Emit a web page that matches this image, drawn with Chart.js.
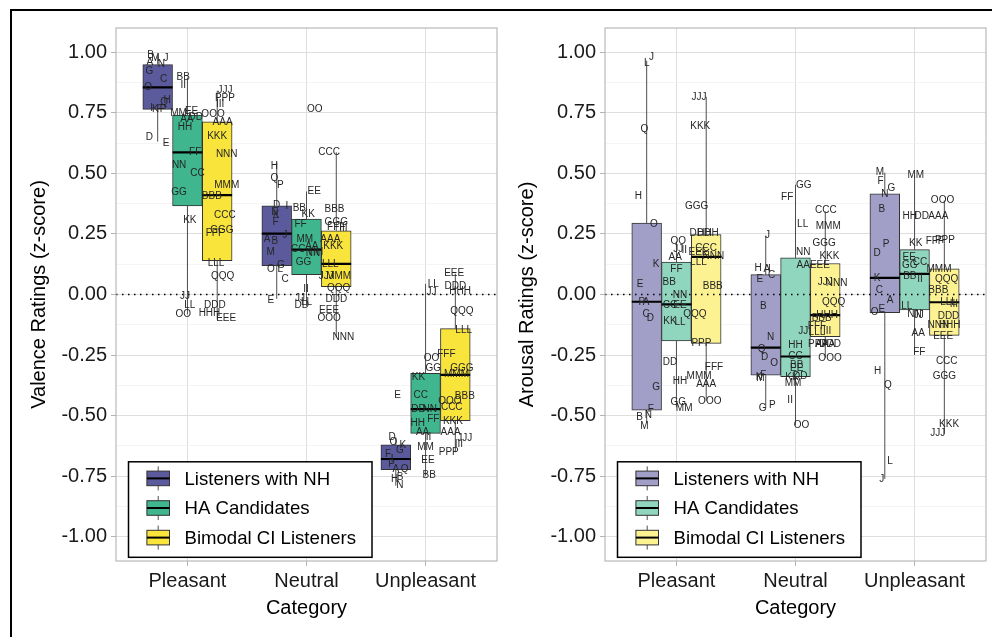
<!DOCTYPE html>
<html>
<head>
<meta charset="utf-8">
<script src="https://cdn.jsdelivr.net/npm/chart.js@4.4.1/dist/chart.umd.min.js"></script>
<style>
  html, body { margin: 0; padding: 0; background: #fff; }
  body { width: 992px; height: 637px; position: relative; overflow: hidden; }
  #frame { position: absolute; left: 10px; top: 9px; width: 1000px; height: 700px; border: 2px solid #000; box-sizing: border-box; }
  canvas { position: absolute; top: 12px; }
  #valence { left: 12px; }
  #arousal { left: 500px; }
</style>
</head>
<body>
<div id="frame"></div>
<canvas id="valence" width="490" height="625"></canvas>
<canvas id="arousal" width="492" height="625"></canvas>
<script>
const categories = ["Pleasant", "Neutral", "Unpleasant"];
const groups = ["Listeners with NH", "HA Candidates", "Bimodal CI Listeners"];
const catPos = [1, 2, 3];
const dodge = [-0.25, 0, 0.25];
const yMajorTicks = [-1, -0.75, -0.5, -0.25, 0, 0.25, 0.5, 0.75, 1];
const yMinorTicks = [-0.875, -0.625, -0.375, -0.125, 0.125, 0.375, 0.625, 0.875];

// box stats per category: [lower whisker, q1, median, q3, upper whisker]
const valenceNH = [[0.631, 0.764, 0.855, 0.949, 0.988], [-0.018, 0.119, 0.251, 0.366, 0.545], [-0.789, -0.723, -0.679, -0.621, -0.59]];
const valenceHA = [[-0.082, 0.366, 0.587, 0.741, 0.895], [-0.048, 0.082, 0.185, 0.311, 0.425], [-0.748, -0.573, -0.473, -0.325, 0.044]];
const valenceCI = [[-0.103, 0.14, 0.41, 0.713, 0.841], [-0.178, 0.032, 0.126, 0.263, 0.587], [-0.651, -0.521, -0.332, -0.141, 0.086]];
const arousalNH = [[-0.53, -0.477, -0.03, 0.295, 0.965], [-0.47, -0.333, -0.219, 0.082, 0.243], [-0.761, -0.075, 0.069, 0.416, 0.503]];
const arousalHA = [[-0.465, -0.192, -0.041, 0.134, 0.219], [-0.539, -0.339, -0.256, 0.151, 0.453], [-0.24, -0.064, 0.085, 0.185, 0.494]];
const arousalCI = [[-0.439, -0.202, 0.155, 0.247, 0.816], [-0.261, -0.174, -0.085, 0.128, 0.343], [-0.576, -0.169, -0.032, 0.106, 0.388]];

// participant labels per category: [id, rating, jitter]
const valenceNHPts = [
  [["B",0.988,-0.06],["A",0.96,-0.065],["M",0.974,-0.02],["J",0.974,0.07],["N",0.949,0.03],["G",0.923,-0.07],["C",0.888,0.05],["O",0.855,-0.08],["H",0.802,0.08],["Q",0.795,0.055],["I",0.768,-0.05],["K",0.764,-0.02],["F",0.764,0.015],["P",0.766,0.045],["D",0.651,-0.07],["E",0.624,0.07]],
  [["H",0.531,-0.02],["Q",0.48,-0.02],["P",0.453,0.03],["D",0.368,0],["I",0.364,0.085],["N",0.34,-0.015],["K",0.326,-0.005],["F",0.298,-0.01],["J",0.244,0.07],["A",0.226,-0.08],["B",0.219,-0.015],["M",0.174,-0.05],["G",0.121,0.035],["O",0.103,-0.05],["L",0.103,0.03],["C",0.062,0.07],["E",-0.023,-0.05]],
  [["E",-0.414,0.015],["D",-0.59,-0.03],["O",-0.61,-0.02],["K",-0.621,0.06],["G",-0.642,0.035],["F",-0.658,-0.065],["I",-0.679,-0.03],["P",-0.7,-0.035],["A",-0.723,0],["Q",-0.72,0.075],["B",-0.754,0.035],["H",-0.764,-0.01],["N",-0.789,0.035]]
];
const valenceHAPts = [
  [["BB",0.898,-0.035],["II",0.864,-0.035],["MM",0.748,-0.075],["EE",0.757,0.035],["AA",0.723,-0.005],["DD",0.733,0.07],["HH",0.689,-0.02],["FF",0.587,0.065],["NN",0.535,-0.07],["CC",0.501,0.085],["GG",0.421,-0.07],["KK",0.305,0.02],["JJ",-0.007,-0.02],["LL",-0.045,0.02],["OO",-0.082,-0.035]],
  [["OO",0.764,0.07],["EE",0.425,0.065],["BB",0.354,-0.06],["KK",0.332,0.015],["FF",0.288,-0.05],["MM",0.229,-0.015],["CC",0.185,-0.07],["AA",0.199,0.045],["NN",0.171,0.055],["HH",0.175,0.08],["GG",0.134,-0.025],["II",0.021,-0.005],["JJ",-0.014,-0.055],["LL",-0.03,0],["DD",-0.045,-0.04]],
  [["LL",0.044,0.065],["JJ",0.01,0.05],["OO",-0.263,0.05],["GG",-0.306,0.065],["KK",-0.343,-0.06],["CC",-0.416,-0.04],["DD",-0.473,-0.06],["NN",-0.473,0.035],["FF",-0.514,0.065],["HH",-0.532,-0.065],["AA",-0.567,-0.025],["II",-0.59,0.025],["MM",-0.631,0],["EE",-0.686,0.02],["BB",-0.748,0.03]]
];
const valenceCIPts = [
  [["JJJ",0.841,0.065],["PPP",0.812,0.065],["III",0.786,0.025],["OOO",0.745,-0.035],["AAA",0.709,0.045],["KKK",0.654,0],["NNN",0.579,0.08],["MMM",0.449,0.08],["BBB",0.405,-0.045],["CCC",0.329,0.065],["GGG",0.267,0.04],["FFF",0.254,-0.02],["LLL",0.13,-0.01],["QQQ",0.075,0.045],["DDD",-0.045,-0.02],["HHH",-0.078,-0.065],["EEE",-0.097,0.075]],
  [["CCC",0.587,-0.06],["BBB",0.35,-0.015],["GGG",0.298,0],["FFF",0.279,0],["III",0.275,0.06],["AAA",0.229,-0.05],["KKK",0.199,-0.025],["LLL",0.126,-0.05],["JJJ",0.075,-0.085],["MMM",0.075,0.02],["QQQ",0.027,0.02],["DDD",-0.018,0],["EEE",-0.064,-0.06],["OOO",-0.099,-0.06],["NNN",-0.178,0.06]],
  [["EEE",0.086,-0.01],["DDD",0.032,0],["HHH",0.014,0.04],["QQQ",-0.069,0.055],["LLL",-0.148,0.07],["FFF",-0.247,-0.075],["GGG",-0.304,0.055],["MMM",-0.329,0.01],["BBB",-0.418,0.08],["OOO",-0.439,-0.045],["CCC",-0.466,-0.03],["KKK",-0.525,-0.02],["AAA",-0.569,-0.04],["JJJ",-0.594,0.08],["III",-0.617,0.03],["PPP",-0.651,-0.055]]
];
const arousalNHPts = [
  [["J",0.978,0.04],["L",0.953,0],["Q",0.682,-0.02],["H",0.405,-0.07],["O",0.291,0.06],["K",0.123,0.08],["E",0.041,-0.055],["P",-0.032,-0.04],["A",-0.032,-0.005],["C",-0.082,-0.005],["D",-0.1,0.03],["G",-0.384,0.08],["F",-0.473,0.035],["N",-0.498,0.015],["B",-0.505,-0.06],["M",-0.545,-0.02]],
  [["J",0.243,0.015],["H",0.11,-0.065],["A",0.103,0.01],["I",0.105,0.03],["C",0.078,0.05],["E",0.065,-0.05],["B",-0.048,-0.02],["N",-0.178,0.04],["Q",-0.224,-0.035],["D",-0.261,-0.01],["O",-0.284,0.07],["F",-0.333,-0.02],["K",-0.34,-0.055],["M",-0.345,-0.045],["P",-0.457,0.055],["G",-0.47,-0.025]],
  [["M",0.503,-0.04],["F",0.466,-0.035],["G",0.439,0.055],["N",0.414,0],["B",0.353,-0.025],["P",0.209,0.01],["D",0.169,-0.065],["K",0.069,-0.065],["C",0.016,-0.045],["A",-0.025,0.045],["E",-0.059,-0.025],["O",-0.075,-0.085],["H",-0.316,-0.06],["Q",-0.373,0.025],["L",-0.687,0.045],["J",-0.761,-0.025]]
];
const arousalHAPts = [
  [["OO",0.219,0.015],["JJ",0.188,0.015],["II",0.181,0.065],["AA",0.155,-0.01],["FF",0.106,0],["BB",0.051,-0.06],["NN",-0.004,0.03],["CC",-0.045,-0.055],["EE",-0.045,0.03],["KK",-0.11,-0.055],["LL",-0.114,0.03],["DD",-0.281,-0.055],["HH",-0.357,0.03],["GG",-0.446,0.015],["MM",-0.47,0.065]],
  [["GG",0.453,0.07],["FF",0.402,-0.07],["LL",0.288,0.06],["NN",0.174,0.065],["AA",0.119,0.065],["JJ",-0.151,0.065],["HH",-0.208,0],["CC",-0.256,0],["BB",-0.292,0.01],["EE",-0.305,0.01],["DD",-0.336,0.04],["KK",-0.34,-0.03],["MM",-0.367,-0.02],["II",-0.435,-0.045],["OO",-0.539,0.05]],
  [["MM",0.494,0.01],["HH",0.322,-0.04],["DD",0.322,0.06],["KK",0.213,0.01],["EE",0.154,-0.045],["CC",0.133,0.045],["GG",0.119,-0.04],["BB",0.075,-0.04],["II",0.062,0.045],["LL",-0.048,-0.065],["NN",-0.082,0],["JJ",-0.085,0.035],["AA",-0.16,0.03],["FF",-0.24,0.04]]
];
const arousalCIPts = [
  [["JJJ",0.816,-0.06],["KKK",0.695,-0.05],["GGG",0.364,-0.08],["DDD",0.254,-0.05],["HHH",0.252,0.015],["CCC",0.189,0],["EEE",0.174,-0.065],["NNN",0.158,0.06],["LLL",0.133,-0.065],["BBB",0.034,0.055],["QQQ",-0.082,-0.095],["PPP",-0.202,-0.04],["FFF",-0.299,0.065],["MMM",-0.339,-0.06],["AAA",-0.37,0],["OOO",-0.439,0.03]],
  [["CCC",0.347,0.005],["MMM",0.281,0.025],["GGG",0.213,-0.01],["KKK",0.158,0.035],["EEE",0.119,-0.045],["JJJ",0.051,0],["NNN",0.048,0.095],["QQQ",-0.034,0.07],["HHH",-0.085,0.015],["BBB",-0.1,-0.03],["FFF",-0.13,-0.07],["III",-0.15,0.015],["LLL",-0.155,-0.07],["PPP",-0.206,-0.06],["AAA",-0.206,0],["DDD",-0.206,0.04],["OOO",-0.265,0.04]],
  [["OOO",0.388,-0.015],["AAA",0.325,-0.05],["FFF",0.219,-0.08],["PPP",0.222,0.005],["MMM",0.106,-0.045],["QQQ",0.065,0.02],["BBB",0.016,-0.05],["LLL",-0.032,0.035],["III",-0.04,0.08],["DDD",-0.089,0.035],["NNN",-0.126,-0.05],["HHH",-0.126,0.045],["EEE",-0.174,-0.01],["CCC",-0.277,0.02],["GGG",-0.336,0],["KKK",-0.535,0.04],["JJJ",-0.572,-0.055]]
];

const valenceFills = ["#5b5a9c", "#3fb68d", "#f9e43c"];
const arousalFills = ["#a19fc7", "#90d5be", "#fdf292"];

const FONT = '"Liberation Sans", Arial, sans-serif';

function buildDatasets(stats, pts, fills) {
  const ds = [];
  stats.forEach((g, gi) => {
    const xs = catPos.map((c) => c + dodge[gi]);
    const whisk = [];
    const med = [];
    g.forEach((s, ci) => {
      whisk.push({ x: xs[ci], y: s[0] }, { x: xs[ci], y: s[1] }, { x: xs[ci], y: null },
                 { x: xs[ci], y: s[3] }, { x: xs[ci], y: s[4] }, { x: xs[ci], y: null });
      med.push({ x: xs[ci] - 0.125, y: s[2] }, { x: xs[ci] + 0.125, y: s[2] }, { x: xs[ci], y: null });
    });
    ds.push({ type: "line", data: whisk, borderColor: "#4d4d4d", borderWidth: 1, pointRadius: 0, spanGaps: false, order: 5 });
    ds.push({
      type: "bar",
      data: g.map((s, ci) => ({ x: xs[ci], y: [s[1], s[3]] })),
      backgroundColor: fills[gi],
      borderColor: "#333333",
      borderWidth: 1,
      borderSkipped: false,
      grouped: false,
      barPercentage: 1,
      categoryPercentage: 1,
      order: 4,
    });
    ds.push({ type: "line", data: med, borderColor: "#000", borderWidth: 2.2, pointRadius: 0, spanGaps: false, order: 3 });
    const lab = [];
    pts[gi].forEach((list, ci) => list.forEach((p) => lab.push({ x: xs[ci] + p[2], y: p[1], id: p[0] })));
    ds.push({ type: "scatter", data: lab, pointRadius: 0, order: 1, isLabel: true });
  });
  ds.push({
    type: "line",
    data: [{ x: 0.4, y: 0 }, { x: 3.6, y: 0 }],
    borderColor: "#000",
    borderWidth: 1.4,
    borderDash: [1.5, 4.5],
    pointRadius: 0,
    order: 2,
  });
  return ds;
}

const pointLabels = {
  id: "pointLabels",
  afterDatasetsDraw(chart) {
    const ctx = chart.ctx;
    ctx.save();
    ctx.font = "10px " + FONT;
    ctx.fillStyle = "#262626";
    ctx.textAlign = "center";
    ctx.textBaseline = "middle";
    chart.data.datasets.forEach((ds, i) => {
      if (!ds.isLabel) return;
      chart.getDatasetMeta(i).data.forEach((el, j) => ctx.fillText(ds.data[j].id, el.x, el.y));
    });
    ctx.restore();
  },
};

const panelFrame = {
  id: "panelFrame",
  afterDraw(chart, args, opts) {
    const { ctx, chartArea: a } = chart;
    ctx.save();
    ctx.strokeStyle = "#b3b3b3";
    ctx.lineWidth = 1.1;
    ctx.strokeRect(a.left, a.top, a.right - a.left, a.bottom - a.top);

    // legend box
    const lx = a.left + 12.5, lw = 243.5, lh = 95.5;
    const ly = a.bottom - 3.7 - lh;
    ctx.fillStyle = "#fff";
    ctx.fillRect(lx, ly, lw, lh);
    ctx.strokeStyle = "#000";
    ctx.lineWidth = 1.5;
    ctx.strokeRect(lx, ly, lw, lh);
    groups.forEach((g, i) => {
      const cy = ly + 16.6 + i * 29.6;
      const kx = lx + 18.4, kw = 22.6, cx = kx + kw / 2;
      ctx.strokeStyle = "#4d4d4d";
      ctx.lineWidth = 1;
      ctx.beginPath();
      ctx.moveTo(cx, cy - 12); ctx.lineTo(cx, cy - 7.3);
      ctx.moveTo(cx, cy + 7.3); ctx.lineTo(cx, cy + 12);
      ctx.stroke();
      ctx.fillStyle = opts.fills[i];
      ctx.fillRect(kx, cy - 7.3, kw, 14.6);
      ctx.strokeStyle = "#333";
      ctx.strokeRect(kx, cy - 7.3, kw, 14.6);
      ctx.strokeStyle = "#000";
      ctx.lineWidth = 2;
      ctx.beginPath();
      ctx.moveTo(kx, cy); ctx.lineTo(kx + kw, cy);
      ctx.stroke();
      ctx.fillStyle = "#000";
      ctx.font = "18.6px " + FONT;
      ctx.textAlign = "left";
      ctx.textBaseline = "middle";
      ctx.fillText(g, lx + 56, cy + 1);
    });
    ctx.restore();
  },
};

function makePanel(id, yTitle, stats, pts, fills, yWidth, padRight) {
  const isMajor = (v) => yMajorTicks.some((t) => Math.abs(t - v) < 1e-9);
  return new Chart(document.getElementById(id), {
    type: "bar",
    data: { datasets: buildDatasets(stats, pts, fills) },
    plugins: [pointLabels, panelFrame],
    options: {
      responsive: false,
      animation: false,
      events: [],
      layout: { padding: { left: 0, right: padRight, top: 15, bottom: 0 } },
      plugins: {
        legend: { display: false },
        tooltip: { enabled: false },
        panelFrame: { fills: fills },
      },
      scales: {
        x: {
          type: "linear",
          min: 0.4,
          max: 3.6,
          offset: false,
          afterBuildTicks: (axis) => { axis.ticks = catPos.map((v) => ({ value: v })); },
          afterFit: (scale) => { scale.height = 76; },
          ticks: {
            callback: (v) => categories[catPos.indexOf(v)],
            color: "#1a1a1a",
            font: { family: FONT, size: 20 },
            padding: 3,
            autoSkip: false,
            maxRotation: 0,
          },
          grid: { offset: false, color: "#dedede", lineWidth: 1, tickColor: "#b3b3b3", tickLength: 5 },
          border: { display: false },
          title: { display: true, text: "Category", color: "#000", font: { family: FONT, size: 20 }, padding: { top: 0, bottom: 17 } },
        },
        y: {
          type: "linear",
          min: -1.1,
          max: 1.1,
          afterBuildTicks: (axis) => {
            axis.ticks = yMajorTicks.concat(yMinorTicks).sort((p, q) => p - q).map((v) => ({ value: v }));
          },
          afterFit: (scale) => { scale.width = yWidth; },
          ticks: {
            callback: (v) => (isMajor(v) ? v.toFixed(2) : ""),
            color: "#1a1a1a",
            font: { family: FONT, size: 20 },
            padding: 4,
            autoSkip: false,
          },
          grid: {
            color: (c) => (c.tick && isMajor(c.tick.value) ? "#dedede" : "#efefef"),
            lineWidth: (c) => (c.tick && isMajor(c.tick.value) ? 1 : 0.7),
            tickColor: (c) => (c.tick && isMajor(c.tick.value) ? "#b3b3b3" : "rgba(0,0,0,0)"),
            tickLength: 5,
          },
          border: { display: false },
          title: { display: true, text: yTitle, color: "#000", font: { family: FONT, size: 20 }, padding: { top: 15, bottom: 0 } },
        },
      },
    },
  });
}

makePanel("valence", "Valence Ratings (z-score)", [valenceNH, valenceHA, valenceCI], [valenceNHPts, valenceHAPts, valenceCIPts], valenceFills, 104, 5);
makePanel("arousal", "Arousal Ratings (z-score)", [arousalNH, arousalHA, arousalCI], [arousalNHPts, arousalHAPts, arousalCIPts], arousalFills, 105, 6);
</script>
</body>
</html>
